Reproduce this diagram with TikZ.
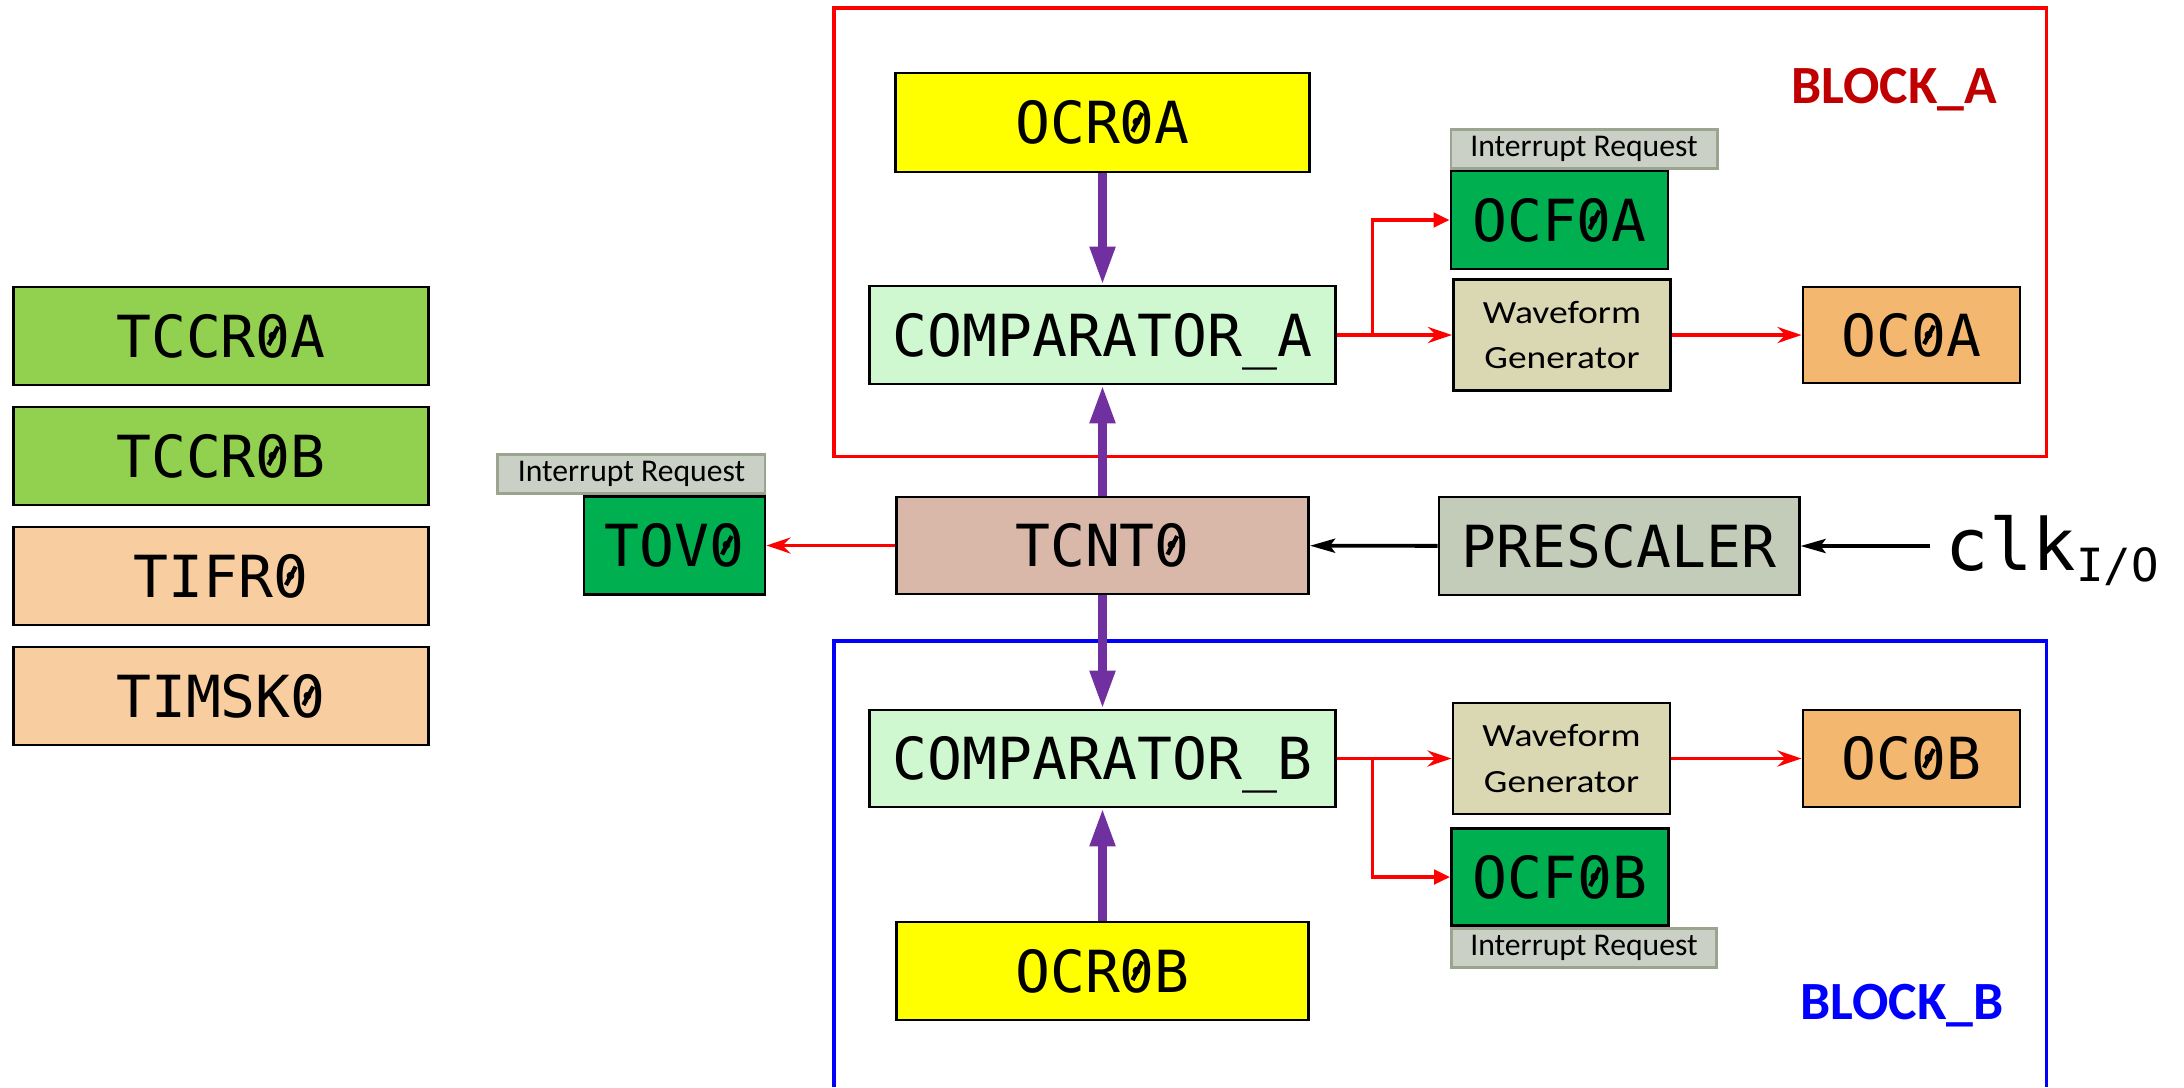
\documentclass[tikz,border=0pt]{standalone}
\usepackage{fontspec}
\setmainfont{Carlito}
\setmonofont{DejaVu Sans Mono}
\usetikzlibrary{arrows.meta}

\definecolor{ctrlgreen}{HTML}{92D050}
\definecolor{flagorange}{HTML}{F8CDA0}
\definecolor{ocryellow}{HTML}{FFFF00}
\definecolor{cmpgreen}{HTML}{D0F8D0}
\definecolor{flaggreen}{HTML}{00B050}
\definecolor{wavebeige}{HTML}{DAD7B3}
\definecolor{outorange}{HTML}{F4B770}
\definecolor{cntbrown}{HTML}{D9B8AA}
\definecolor{prescgrey}{HTML}{C3CCB8}
\definecolor{irqfill}{HTML}{CBD0C6}
\definecolor{irqline}{HTML}{9AA48E}
\definecolor{busviolet}{HTML}{7030A0}
\definecolor{blocka}{HTML}{C00000}

% slashed zero
\newcommand\slzero{\ooalign{0\cr\hidewidth\raisebox{0.19em}{\rotatebox{62}{\rule{0.36em}{0.075em}}}\hidewidth\cr}}
% wide waveform label
\newcommand\wgtext{\resizebox{1.58cm}{\height}{Waveform}\\\resizebox{1.55cm}{\height}{Generator}}

\begin{document}
\begin{tikzpicture}[x=0.01cm, y=-0.01cm,
  reg/.style={draw, line width=0.8pt, inner sep=0pt, text height=12pt, text depth=0pt,
    font=\ttfamily\fontsize{16.5}{16.5}\selectfont},
  irq/.style={draw=irqline, fill=irqfill, line width=0.8pt, inner sep=0pt,
    minimum height=0.39cm, font=\fontsize{9}{9}\selectfont},
  wave/.style={draw, fill=wavebeige, line width=0.8pt, inner sep=0pt, align=center,
    minimum width=2.17cm, minimum height=1.11cm, font=\fontsize{9.2}{13}\selectfont},
  bus/.style={draw=busviolet, line width=2.3pt, -{Triangle[length=0.38cm, width=0.24cm]}},
  sig/.style={draw=red, line width=1.1pt, -{Stealth[length=0.24cm, width=0.16cm]}},
  fork/.style={draw=red, line width=0.95pt, -{Triangle[length=0.16cm, width=0.145cm]}},
  clkline/.style={draw, line width=1.1pt, -{Stealth[length=0.25cm, width=0.14cm, inset=0.05cm]}}]

\useasboundingbox (0,0) rectangle (2184,1087);

% control and flag registers
\foreach \name/\txt/\col [count=\i] in {tccra/TCCR\slzero A/ctrlgreen, tccrb/TCCR\slzero B/ctrlgreen,
                                        tifr/TIFR\slzero/flagorange, timsk/TIMSK\slzero/flagorange}
  \node [reg, fill=\col, minimum width=4.14cm, minimum height=0.98cm] (\name) at (221,216+\i*120) {\txt};

% frames
\draw [red, line width=0.95pt] (834,8) rectangle (2046.5,456.5);
\draw [blue, line width=0.95pt] (834,1087) -- (834,641) -- (2046.5,641) -- (2046.5,1087);
\node [text=blocka, font=\bfseries\fontsize{15.3}{15.3}\selectfont] (labA) at (1894,90) {BLOCK\_A};
\node [text=blue, font=\bfseries\fontsize{15.3}{15.3}\selectfont] (labB) at (1902,1006) {BLOCK\_B};

% counter path
\node [reg, fill=cntbrown, minimum width=4.12cm, minimum height=0.97cm] (tcnt) at (1102.5,545.5) {TCNT\slzero};
\node [reg, fill=prescgrey, minimum width=3.6cm, minimum height=0.98cm] (presc) at (1619,546) {PRESCALER};
\node [anchor=base west, inner xsep=4.3pt, font=\ttfamily\fontsize{20.5}{20.5}\selectfont] (clk) at (1930,570)
  {clk\raisebox{-3.3pt}{\fontsize{13}{13}\selectfont I/O}};
\node [reg, fill=flaggreen, minimum width=1.81cm, minimum height=0.98cm] (tov) at (674.5,545.5) {TOV\slzero};
\node [irq, minimum width=2.67cm, anchor=south east] (irqT) at (tov.north east) {Interrupt Request};

% block A
\node [reg, fill=ocryellow, minimum width=4.13cm, minimum height=0.99cm] (ocra) at (1102.5,122.5) {OCR\slzero A};
\node [reg, fill=cmpgreen, minimum width=4.66cm, minimum height=0.98cm] (compa) at (1102.5,335) {COMPARATOR\_A};
\node [reg, fill=flaggreen, minimum width=2.17cm, minimum height=0.98cm] (ocfa) at (1559.5,220) {OCF\slzero A};
\node [irq, minimum width=2.66cm, anchor=south west] (irqA) at (ocfa.north west) {Interrupt Request};
\node [wave] (wga) at (1562,335) {\wgtext};
\node [reg, fill=outorange, minimum width=2.17cm, minimum height=0.96cm] (oca) at (1911.5,335) {OC\slzero A};
\coordinate (forkA) at (1372.5,335);

% block B
\node [reg, fill=cmpgreen, minimum width=4.66cm, minimum height=0.97cm] (compb) at (1102.5,758.5) {COMPARATOR\_B};
\node [reg, fill=ocryellow, minimum width=4.12cm, minimum height=0.98cm] (ocrb) at (1102.5,971) {OCR\slzero B};
\node [wave] (wgb) at (1561.5,758.5) {\wgtext};
\node [reg, fill=outorange, minimum width=2.17cm, minimum height=0.97cm] (ocb) at (1911.5,758.5) {OC\slzero B};
\node [reg, fill=flaggreen, minimum width=2.17cm, minimum height=0.97cm] (ocfb) at (1560,877) {OCF\slzero B};
\node [irq, minimum width=2.65cm, anchor=north west] (irqB) at (ocfb.south west) {Interrupt Request};
\coordinate (forkB) at (1372.5,758.5);

% connections
\draw [clkline] (clk.west |- presc.east) -- (presc);
\draw [clkline] (presc) -- (tcnt);
\draw [sig] (tcnt) -- (tov);
\draw [bus] (ocra) -- (compa);
\draw [bus] (tcnt) -- (compa);
\draw [bus] (tcnt) -- (compb);
\draw [bus] (ocrb) -- (compb);
\draw [sig] (compa) -- (wga);
\draw [fork] (forkA) |- (ocfa);
\draw [sig] (wga) -- (oca);
\draw [sig] (compb) -- (wgb);
\draw [fork] (forkB) |- (ocfb);
\draw [sig] (wgb) -- (ocb);

\end{tikzpicture}
\end{document}
